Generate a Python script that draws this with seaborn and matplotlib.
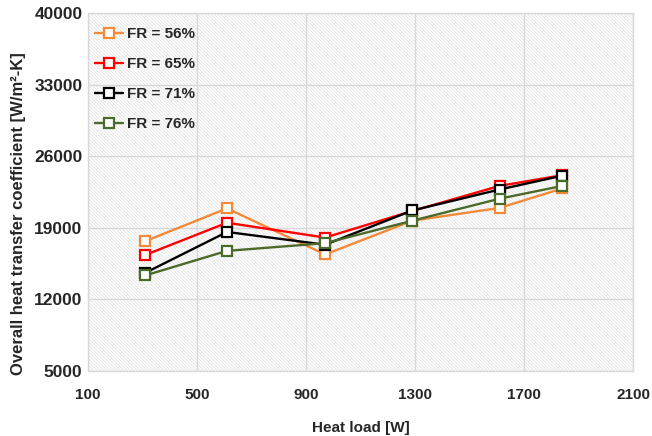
import matplotlib
matplotlib.use("Agg")
import matplotlib.pyplot as plt
import seaborn as sns
import pandas as pd

# Heat load [W] and overall heat transfer coefficient [W/m²-K] for each filling ratio
heat_load = [310, 610, 970, 1290, 1610, 1840]
fr_labels = ["FR = 56%", "FR = 65%", "FR = 71%", "FR = 76%"]
u_fr56 = [17700, 20900, 16400, 19700, 20950, 22850]
u_fr65 = [16350, 19500, 18050, 20650, 23100, 24150]
u_fr71 = [14600, 18600, 17350, 20700, 22750, 24100]
u_fr76 = [14350, 16750, 17500, 19700, 21850, 23100]
x_ticks = [100, 500, 900, 1300, 1700, 2100]
y_ticks = [5000, 12000, 19000, 26000, 33000, 40000]

colors = ["#F28A3A", "#FF0000", "#000000", "#4A6B2A"]

frames = []
for label, vals in zip(fr_labels, [u_fr56, u_fr65, u_fr71, u_fr76]):
    frames.append(pd.DataFrame({"load": heat_load, "u": vals, "fr": label}))
df = pd.concat(frames, ignore_index=True)

sns.set_theme(style="white")
plt.rcParams["font.family"] = ["Liberation Sans", "DejaVu Sans"]
plt.rcParams["font.weight"] = "bold"
plt.rcParams["hatch.color"] = "#e4e4e4"
plt.rcParams["hatch.linewidth"] = 0.6

fig = plt.figure(figsize=(6.52, 4.36), dpi=100)
ax = fig.add_axes([0.135, 0.149, 0.836, 0.821])

# finely hatched plot-area fill
ax.patch.set_facecolor("white")
ax.patch.set_hatch("\\" * 10)
ax.patch.set_edgecolor("#e4e4e4")

sns.lineplot(
    data=df, x="load", y="u", hue="fr", style="fr",
    palette=colors, markers=["s"] * 4, dashes=False,
    linewidth=1.7, ax=ax, legend=True,
)
for line, c in zip(ax.lines[:4], colors):
    line.set_marker("s")
    line.set_markersize(7.8)
    line.set_markerfacecolor("white")
    line.set_markeredgecolor(c)
    line.set_markeredgewidth(1.6)

ax.set_xlim(100, 2100)
ax.set_ylim(5000, 40000)
ax.set_xticks(x_ticks)
ax.set_yticks(y_ticks)
ax.grid(True, color="#d9d9d9", linewidth=1.0)
ax.set_axisbelow(True)
for s in ax.spines.values():
    s.set_color("#d9d9d9")
    s.set_linewidth(1.0)
ax.tick_params(axis="x", length=0, labelsize=11, pad=12)
ax.tick_params(axis="y", length=0, labelsize=12.5, pad=4)
for lbl in ax.get_xticklabels() + ax.get_yticklabels():
    lbl.set_fontweight("bold")

ax.set_xlabel("Heat load [W]", fontsize=11, fontweight="bold", labelpad=14)
ax.set_ylabel("Overall heat transfer coefficient [W/m²-K]", fontsize=12,
              fontweight="bold")
ax.yaxis.set_label_coords(-0.114, 0.44)

leg = ax.legend(loc="upper left", frameon=False, fontsize=11,
                handlelength=1.85, handletextpad=0.25, labelspacing=1.05,
                borderaxespad=0.15, bbox_to_anchor=(-0.003, 0.985))
for t in leg.get_texts():
    t.set_fontweight("bold")
for h, c in zip(leg.legend_handles, colors):
    h.set_marker("s")
    h.set_markerfacecolor("white")
    h.set_markeredgecolor(c)
    h.set_markeredgewidth(1.6)
    h.set_markersize(7.8)

fig.savefig("out.png", dpi=100)
